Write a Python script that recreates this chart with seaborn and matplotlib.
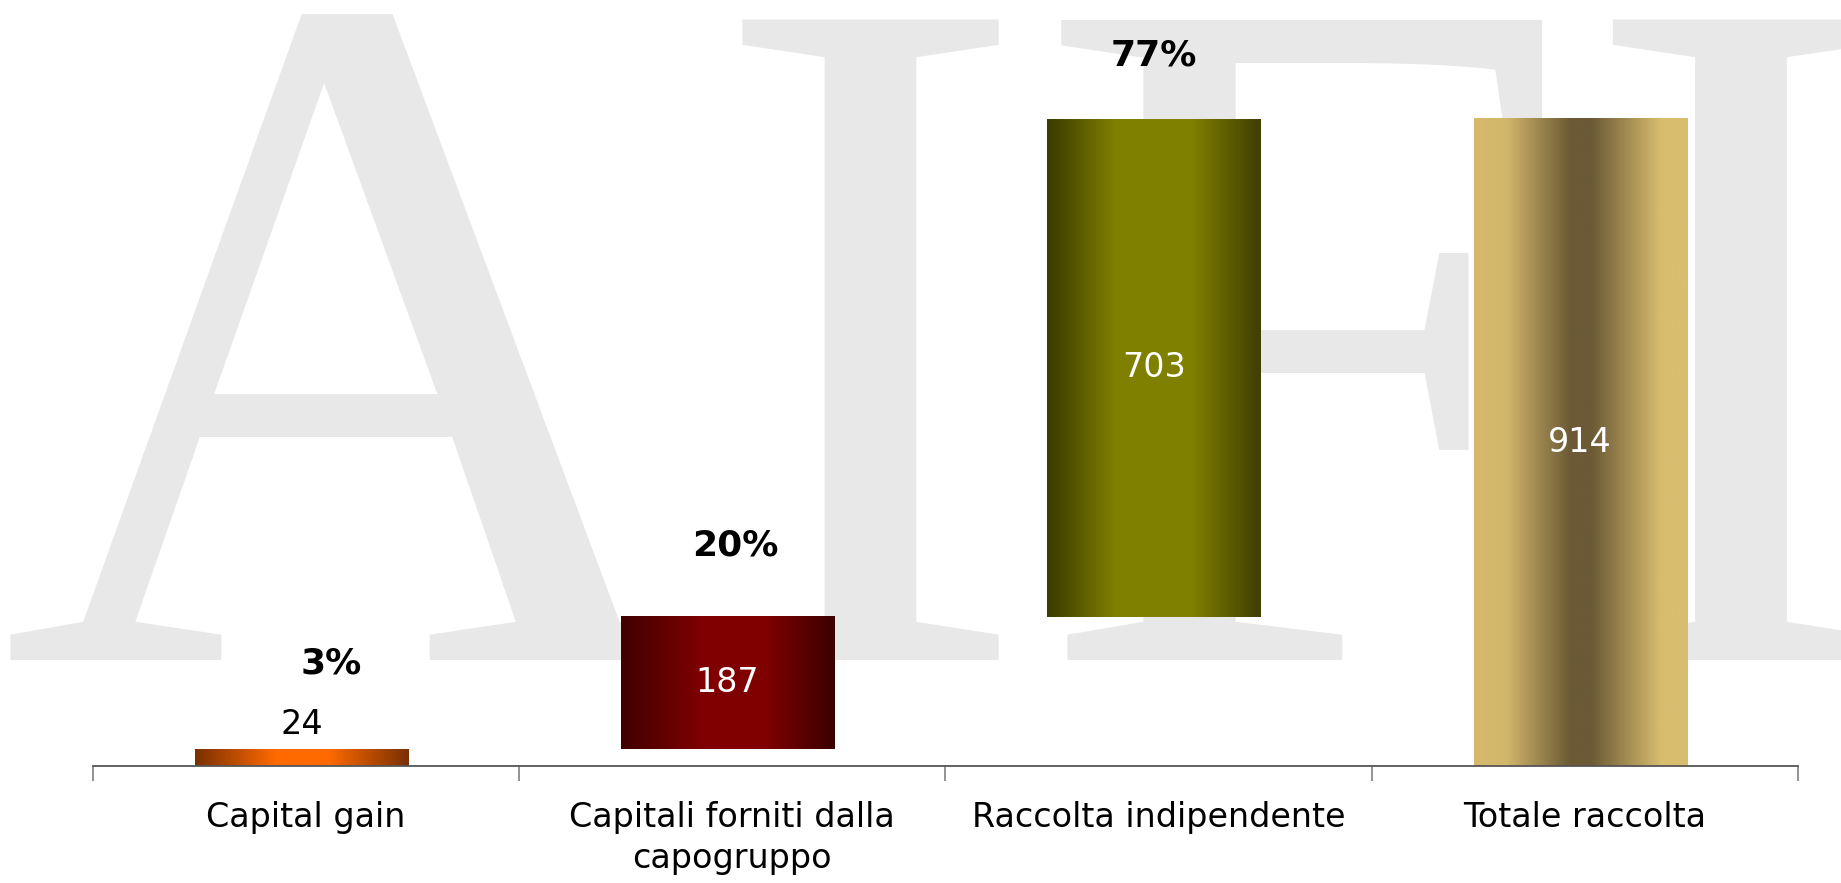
import numpy as np
import pandas as pd
import matplotlib
matplotlib.use('Agg')
import matplotlib.pyplot as plt
from matplotlib.colors import LinearSegmentedColormap
import seaborn as sns

# data
categories = ['Capital gain', 'Capitali forniti dalla\ncapogruppo',
              'Raccolta indipendente', 'Totale raccolta']
values = [24, 187, 703, 914]
percent_labels = ['3%', '20%', '77%', None]
is_total = [False, False, False, True]

# gradient stops per bar (edge -> centre -> edge)
grad_stops = [
    [(0.0, '#7a3000'), (0.38, '#ff6a00'), (0.62, '#ff6a00'), (1.0, '#7a3000')],
    [(0.0, '#400000'), (0.38, '#800000'), (0.68, '#800000'), (1.0, '#3a0000')],
    [(0.0, '#3a3a00'), (0.32, '#808000'), (0.68, '#808000'), (1.0, '#3f3f00')],
    [(0.0, '#d6b96c'), (0.15, '#d2b66b'), (0.45, '#6b5a35'), (0.55, '#6b5a35'),
     (0.88, '#d9bd70'), (1.0, '#d9bd70')],
]
# where the percentage labels sit relative to each bar top
pct_offset = [121, 100, 89, 0]
pct_dx = [0.07, 0.017, 0.0, 0.0]

# waterfall bottoms
bottoms = []
run = 0
for v, tot in zip(values, is_total):
    bottoms.append(0 if tot else run)
    run = v if tot else run + v

df = pd.DataFrame({'cat': categories, 'val': values})

sns.set_style('white')
plt.rcParams['font.family'] = ['DejaVu Sans']
plt.rcParams['text.color'] = 'black'
plt.rcParams['xtick.color'] = 'black'

fig = plt.figure(figsize=(18.41, 8.83), dpi=100)
# watermark
fig.text(0.0, 0.2525, 'AIFI', fontsize=705, family='Liberation Serif',
         color='#e8e8e8', ha='left', va='baseline', zorder=-1)

ax = fig.add_axes([0.0505, 0.1325, 0.9261, 0.8675])
ax.patch.set_alpha(0)

sns.barplot(data=df, x='cat', y='val', width=0.5, ax=ax, color='white')

for i, p in enumerate(ax.patches):
    p.set_y(bottoms[i])
    x0 = p.get_x() - 0.011
    x1 = x0 + p.get_width()
    y0 = bottoms[i]
    y1 = y0 + values[i]
    cmap = LinearSegmentedColormap.from_list('g%d' % i, grad_stops[i])
    grad = np.linspace(0, 1, 256).reshape(1, -1)
    ax.imshow(grad, cmap=cmap, extent=[x0, x1, y0, y1], aspect='auto',
              interpolation='bilinear', zorder=2)
    p.set_visible(False)

    xc = (x0 + x1) / 2
    # value labels
    if values[i] < 60:
        ax.text(xc, y1 + 35, str(values[i]), ha='center', va='center',
                fontsize=24, color='black', zorder=3)
    else:
        ax.text(xc, (y0 + y1) / 2, str(values[i]), ha='center', va='center',
                fontsize=24, color='white', zorder=3)
    if percent_labels[i]:
        ax.text(xc + pct_dx[i], y1 + pct_offset[i], percent_labels[i],
                ha='center', va='center', fontsize=26, fontweight='bold',
                color='black', zorder=3)

ax.set_xlim(-0.5, 3.5)
ax.set_ylim(0, 1082)
ax.set_aspect('auto')
ax.set_xlabel('')
ax.set_ylabel('')
ax.set_yticks([])

for s in ['top', 'right', 'left']:
    ax.spines[s].set_visible(False)
ax.spines['bottom'].set_color('#555555')
ax.spines['bottom'].set_linewidth(1.3)

ax.set_xticks(range(len(categories)))
ax.set_xticklabels(categories, fontsize=24, linespacing=1.3)
ax.set_xticks(np.arange(-0.5, len(categories)), minor=True)
ax.tick_params(axis='x', which='major', length=0, pad=25, bottom=True)
ax.tick_params(axis='x', which='minor', length=11, width=1.2,
               color='#808080', direction='out', bottom=True)

plt.savefig('out.png', dpi=100)
